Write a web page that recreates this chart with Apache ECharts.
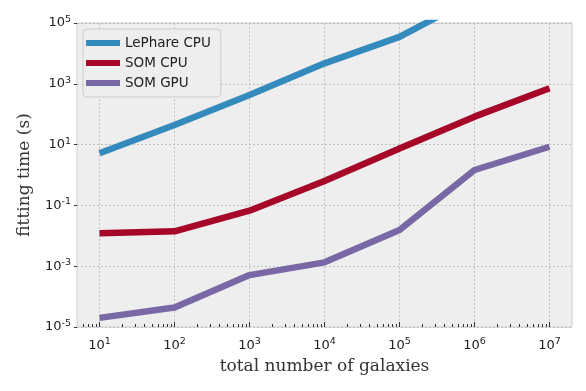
<!DOCTYPE html>
<html>
<head>
<meta charset="utf-8">
<script src="https://cdn.jsdelivr.net/npm/echarts@6/dist/echarts.min.js"></script>
<style>
  html, body { margin: 0; padding: 0; background: #fff; }
  #chart { width: 586px; height: 391px; }
</style>
</head>
<body>
<div id="chart"></div>
<script>
// number of galaxies
var galaxies = [1e1, 1e2, 1e3, 1e4, 1e5, 1e6, 1e7];

// fitting time in seconds
var lephareCpu = [5.2, 44, 430, 4700, 35000, 700000, 8000000];
var somCpu = [0.0121, 0.0141, 0.067, 0.63, 7.5, 83, 710];
var somGpu = [2.0e-5, 4.4e-5, 5.1e-4, 1.34e-3, 0.0155, 1.46, 8.5];

// tick labels
var xTicks = [1e1, 1e2, 1e3, 1e4, 1e5, 1e6, 1e7];
var yTicks = [1e-5, 1e-3, 1e-1, 1e1, 1e3, 1e5];

var xMin = Math.pow(10, 0.7);
var xMax = Math.pow(10, 7.3);

// log minor ticks 2..9 of every decade inside the range
var xMinor = [];
for (var k = 0; k <= 7; k++) {
    for (var m = 2; m <= 9; m++) {
        var v = m * Math.pow(10, k);
        if (v > xMin && v < xMax) xMinor.push(v);
    }
}

function pow10Label(value) {
    var e = Math.round(Math.log(value) / Math.LN10);
    return '{b|10}{s|' + e + '}';
}

var labelRich = {
    b: { fontFamily: 'DejaVu Sans', fontSize: 13, color: '#222' },
    s: { fontFamily: 'DejaVu Sans', fontSize: 9.5, color: '#222', padding: [0, 0, 7, 0] }
};

function makeSeries(name, data, color) {
    return {
        name: name,
        type: 'line',
        data: galaxies.map(function (g, i) { return [g, data[i]]; }),
        symbol: 'none',
        clip: true,
        lineStyle: { color: color, width: 6.5, join: 'round', cap: 'butt' },
        itemStyle: { color: color }
    };
}

var chart = echarts.init(document.getElementById('chart'), null, { renderer: 'canvas' });

chart.setOption({
    animation: false,
    backgroundColor: '#ffffff',
    grid: {
        left: 77, right: 14, top: 23, bottom: 64,
        show: true,
        backgroundColor: '#eeeeee',
        borderColor: '#cccccc',
        borderWidth: 1
    },
    legend: {
        orient: 'vertical',
        left: 83, top: 29,
        icon: 'rect',
        itemWidth: 34, itemHeight: 6,
        itemGap: 6,
        padding: [7, 10, 7, 3],
        backgroundColor: '#eeeeee',
        borderColor: '#cccccc',
        borderWidth: 1,
        borderRadius: 4,
        textStyle: { fontFamily: 'DejaVu Sans', fontSize: 13.5, color: '#222' },
        data: ['LePhare CPU', 'SOM CPU', 'SOM GPU']
    },
    xAxis: [{
        type: 'log',
        logBase: 10,
        min: xMin, max: xMax,
        name: 'total number of galaxies',
        nameLocation: 'middle',
        nameGap: 31,
        nameTextStyle: { fontFamily: 'DejaVu Serif', fontSize: 17, color: '#333' },
        axisLine: { show: false },
        axisTick: { show: true, inside: true, length: 5, lineStyle: { color: '#333' }, customValues: xTicks },
        axisLabel: { customValues: xTicks, formatter: pow10Label, rich: labelRich, margin: 10 },
        splitLine: { show: true, lineStyle: { color: '#b8b8b8', type: [2, 2], width: 0.8 } }
    }, {
        type: 'log',
        logBase: 10,
        min: xMin, max: xMax,
        position: 'bottom',
        axisLine: { show: false },
        axisTick: { show: true, inside: true, length: 3, lineStyle: { color: '#333' }, customValues: xMinor },
        axisLabel: { show: false },
        splitLine: { show: false }
    }],
    yAxis: {
        type: 'log',
        logBase: 10,
        min: 1e-5, max: 1e5,
        name: 'fitting time (s)',
        nameLocation: 'middle',
        nameGap: 44,
        nameTextStyle: { fontFamily: 'DejaVu Serif', fontSize: 17, color: '#333' },
        axisLine: { show: false },
        axisTick: { show: true, inside: false, length: 3, lineStyle: { color: '#333' }, customValues: yTicks },
        axisLabel: { customValues: yTicks, formatter: pow10Label, rich: labelRich, margin: 6 },
        splitLine: { show: true, lineStyle: { color: '#b8b8b8', type: [2, 2], width: 0.8 } }
    },
    series: [
        makeSeries('LePhare CPU', lephareCpu, '#348ABD'),
        makeSeries('SOM CPU', somCpu, '#A60628'),
        makeSeries('SOM GPU', somGpu, '#7A68A6')
    ]
});
</script>
</body>
</html>
